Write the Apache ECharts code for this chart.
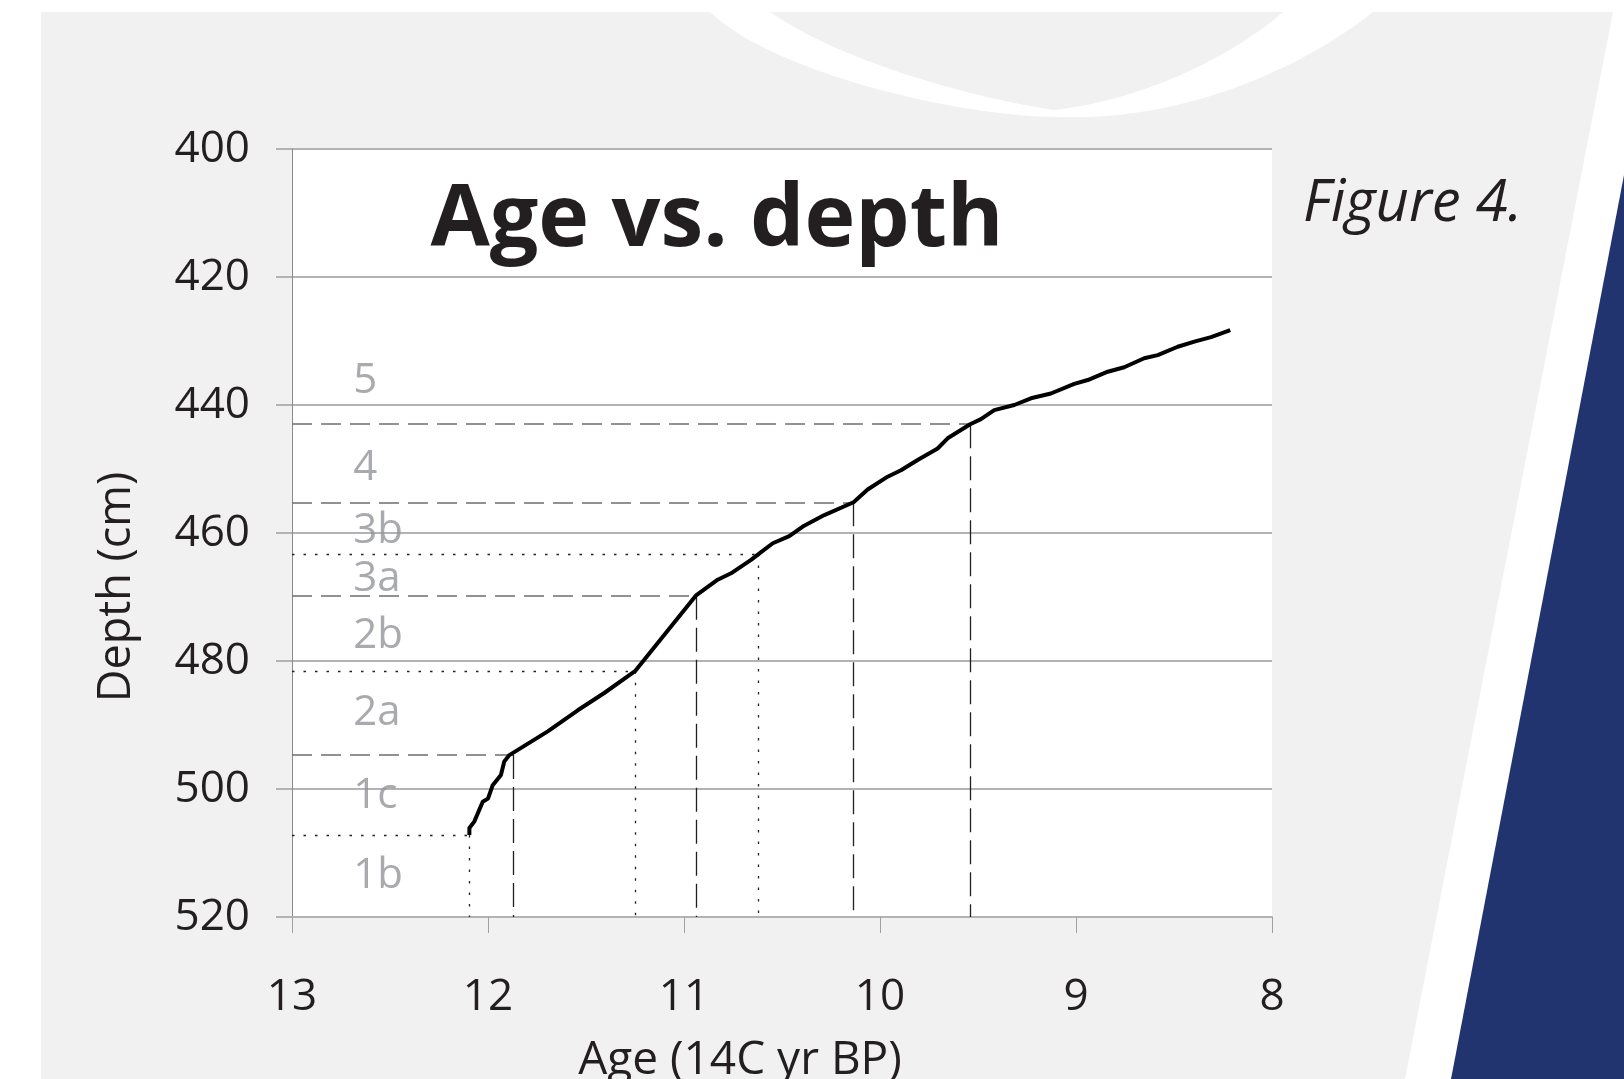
<!DOCTYPE html>
<html>
<head>
<meta charset="utf-8">
<title>Age vs. depth</title>
<script src="https://cdn.jsdelivr.net/npm/echarts@6/dist/echarts.min.js"></script>
<style>
  html, body { margin: 0; padding: 0; background: #fff; }
  #chart { width: 1624px; height: 1079px; }
</style>
</head>
<body>
<div id="chart"></div>
<script>
// age-depth curve (age in 1000 14C yr BP, depth in cm)
const curveAge = [12.095, 12.095, 12.07, 12.027, 12.0, 11.976, 11.934, 11.917, 11.891, 11.695,
  11.542, 11.407, 11.25, 10.94, 10.828, 10.76, 10.658, 10.62, 10.547, 10.463,
  10.394, 10.284, 10.135, 10.063, 9.961, 9.893, 9.808, 9.706, 9.655, 9.54,
  9.485, 9.417, 9.315, 9.23, 9.128, 9.009, 8.94, 8.838, 8.754, 8.652,
  8.583, 8.481, 8.396, 8.311, 8.213]
const curveDepth = [507.2, 506.1, 505.1, 502.0, 501.5, 499.4, 497.8, 495.7, 494.7, 491.0,
  487.7, 485.0, 481.6, 469.8, 467.3, 466.3, 464.2, 463.3, 461.6, 460.5,
  459.0, 457.2, 455.2, 453.2, 451.2, 450.2, 448.6, 446.8, 445.2, 443.0,
  442.2, 440.8, 440.0, 438.95, 438.2, 436.7, 436.1, 434.8, 434.1, 432.7,
  432.2, 430.9, 430.1, 429.4, 428.3]

// zone boundaries (where the guide lines meet the curve)
const boundaryAge = [9.54, 10.135, 10.62, 10.94, 11.25, 11.87, 12.095]
const boundaryDepth = [443.0, 455.2, 463.3, 469.8, 481.6, 494.7, 507.2]
const boundaryKind = ['dashed', 'dashed', 'dotted', 'dashed', 'dotted', 'dashed', 'dotted']

// zone labels
const zoneNames = ['5', '4', '3b', '3a', '2b', '2a', '1c', '1b']
const zoneDepth = [435.6, 449.2, 459.1, 466.6, 475.5, 487.5, 500.5, 513.0]
const zoneAge = 12.69

// axes
const ageTicks = [13, 12, 11, 10, 9, 8]
const depthTicks = [400, 420, 440, 460, 480, 500, 520]

const FONT = '"Open Sans", "Noto Sans", sans-serif'

// background swoosh, sampled from a few bezier pieces
function cubic(p0, p1, p2, p3, n) {
  const pts = []
  for (let i = 0; i <= n; i++) {
    const t = i / n, u = 1 - t
    pts.push([
      u * u * u * p0[0] + 3 * u * u * t * p1[0] + 3 * u * t * t * p2[0] + t * t * t * p3[0],
      u * u * u * p0[1] + 3 * u * u * t * p1[1] + 3 * u * t * t * p2[1] + t * t * t * p3[1]
    ])
  }
  return pts
}
const swoosh = [].concat(
  cubic([710, 12], [770, 70], [950, 116], [1057, 117], 40),
  cubic([1057, 117], [1180, 122], [1300, 70], [1373, 12], 40),
  cubic([1283, 12], [1240, 50], [1150, 100], [1053, 110], 40),
  cubic([1053, 110], [960, 95], [840, 60], [770, 12], 40)
)

const guideLines = []
boundaryAge.forEach((a, i) => {
  const d = boundaryDepth[i]
  const dotted = boundaryKind[i] === 'dotted'
  guideLines.push([
    { coord: [ageTicks[0], d], lineStyle: dotted
      ? { type: [2.5, 9], color: '#231f20', width: 1.3 }
      : { type: [20, 9], color: '#6d6e71', width: 1.6 } },
    { coord: [a, d] }
  ])
  guideLines.push([
    { coord: [a, d], lineStyle: dotted
      ? { type: [2.5, 9], color: '#231f20', width: 1.3 }
      : { type: [24, 8], color: '#231f20', width: 1.3 } },
    { coord: [a, depthTicks[depthTicks.length - 1]] }
  ])
})

const chart = echarts.init(document.getElementById('chart'))

chart.setOption({
  backgroundColor: '#ffffff',
  animation: false,
  graphic: [
    {
      type: 'polygon', z: -10, silent: true,
      shape: { points: [[41, 12], [1613, 12], [1405, 1079], [41, 1079]] },
      style: { fill: '#f1f1f1' }
    },
    {
      type: 'polygon', z: -10, silent: true,
      shape: { points: [[1624, 175], [1451, 1079], [1624, 1079]] },
      style: { fill: '#213470' }
    },
    {
      type: 'polygon', z: -9, silent: true,
      shape: { points: swoosh },
      style: { fill: '#ffffff' }
    },
    {
      type: 'text', z: 100, silent: true,
      x: 717, y: 221,
      style: {
        text: 'Age vs. depth',
        font: 'bold 86px ' + FONT,
        fill: '#231f20',
        align: 'center',
        verticalAlign: 'middle'
      }
    },
    {
      type: 'text', z: 100, silent: true,
      x: 1303, y: 204,
      style: {
        text: 'Figure 4.',
        font: 'italic 58px ' + FONT,
        fill: '#231f20',
        align: 'left',
        verticalAlign: 'middle'
      }
    }
  ],
  grid: {
    left: 292,
    right: 352,
    top: 149,
    bottom: 162,
    outerBoundsMode: 'none',
    containLabel: false,
    show: true,
    backgroundColor: '#ffffff',
    borderWidth: 0
  },
  xAxis: {
    type: 'value',
    min: ageTicks[ageTicks.length - 1],
    max: ageTicks[0],
    interval: 1,
    inverse: true,
    name: 'Age (14C yr BP)',
    nameLocation: 'middle',
    nameGap: 121,
    nameTextStyle: { fontSize: 46, color: '#231f20', fontFamily: FONT, padding: [0, 84, 0, 0] },
    axisLine: { show: true, onZero: false, lineStyle: { color: '#b3b3b3', width: 2 } },
    axisTick: { show: true, length: 16, lineStyle: { color: '#a0a0a0', width: 1 } },
    axisLabel: { fontSize: 44, color: '#231f20', fontFamily: FONT, margin: 58 },
    splitLine: { show: false }
  },
  yAxis: {
    type: 'value',
    min: depthTicks[0],
    max: depthTicks[depthTicks.length - 1],
    interval: 20,
    inverse: true,
    name: 'Depth (cm)',
    nameLocation: 'middle',
    nameRotate: 90,
    nameGap: 152,
    nameTextStyle: { fontSize: 45, color: '#231f20', fontFamily: FONT, padding: [0, 108, 0, 0] },
    axisLine: { show: true, onZero: false, lineStyle: { color: '#8a8a8a', width: 1 } },
    axisTick: { show: true, length: 16, lineStyle: { color: '#b3b3b3', width: 2 } },
    axisLabel: { fontSize: 44, color: '#231f20', fontFamily: FONT, margin: 42, padding: [12, 0, 0, 0] },
    splitLine: { show: true, lineStyle: { color: '#b3b3b3', width: 2 } }
  },
  series: [
    {
      type: 'line',
      data: [],
      silent: true,
      markLine: {
        silent: true,
        symbol: ['none', 'none'],
        label: { show: false },
        data: guideLines
      }
    },
    {
      type: 'line',
      data: curveAge.map((a, i) => [a, curveDepth[i]]),
      showSymbol: false,
      smooth: false,
      z: 5,
      lineStyle: { color: '#000000', width: 4, join: 'round' }
    },
    {
      type: 'scatter',
      symbolSize: 1,
      itemStyle: { color: 'rgba(0,0,0,0)' },
      data: zoneNames.map((n, i) => ({ name: n, value: [zoneAge, zoneDepth[i]] })),
      label: {
        show: true,
        position: 'right',
        distance: 0,
        offset: [0, 4],
        formatter: '{b}',
        fontSize: 42,
        color: '#939598',
        fontFamily: FONT
      }
    }
  ]
})
</script>
</body>
</html>
